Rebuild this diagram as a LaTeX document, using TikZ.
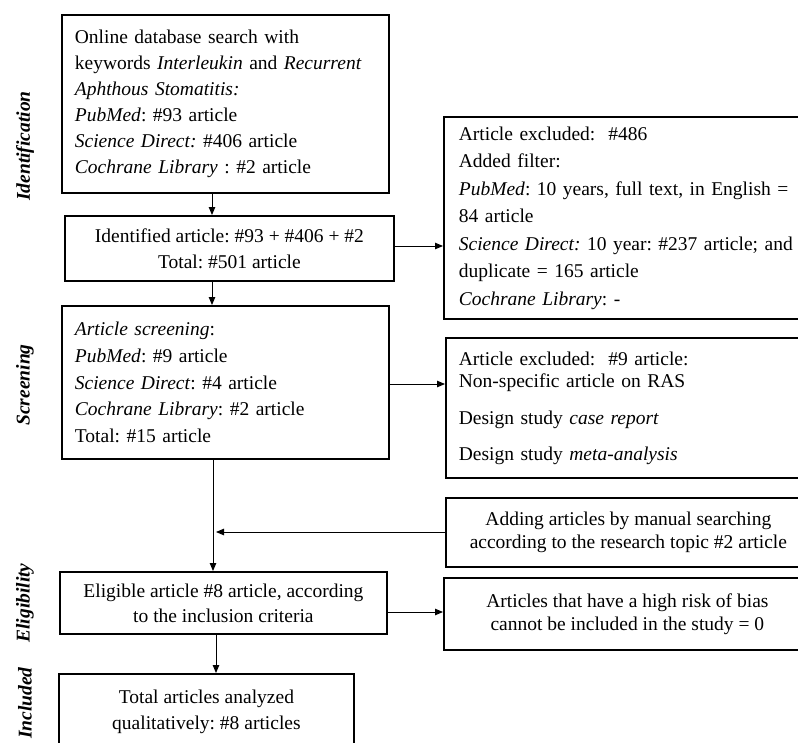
\documentclass[tikz,border=0pt]{standalone}
\usepackage{fontspec}
\setmainfont{Liberation Serif}
\usetikzlibrary{arrows.meta}
\frenchspacing
\begin{document}
\begin{tikzpicture}[x=1pt,y=-1pt,
  box/.style={draw, line width=1.8pt, anchor=north west, inner sep=0pt, font=\fontsize{19.5}{26}\selectfont},
  lbox/.style={box, align=left, inner xsep=13pt},
  cbox/.style={box, align=center},
  arr/.style={line width=0.9pt, -{Triangle[length=8pt,width=6.5pt]}},
  side/.style={rotate=90, font=\fontsize{19.5}{20}\selectfont\bfseries\itshape}]
\useasboundingbox (0,0) rectangle (798,742);
\clip (0,0) rectangle (798,742);
\fill[white] (0,0) rectangle (798,742);
% left column
\node[lbox, minimum width=327pt, minimum height=178pt, text width=301pt] (A) at (61,14)
 {Online database search with\\
  keywords \textit{Interleukin} and \textit{Recurrent}\\
  \textit{Aphthous Stomatitis:}\\
  \textit{PubMed}: \#93 article\\
  \textit{Science Direct:} \#406 article\\
  \textit{Cochrane Library} : \#2 article};
\node[cbox, minimum width=329pt, minimum height=65pt] (B) at (64,215)
 {Identified article: \#93 + \#406 + \#2\\ Total: \#501 article};
\node[lbox, minimum width=327pt, minimum height=153pt, text width=301pt, font=\fontsize{19.5}{26.7}\selectfont] (C) at (61,305)
 {\textit{Article screening}:\\
  \textit{PubMed}: \#9 article\\
  \textit{Science Direct}: \#4 article\\
  \textit{Cochrane Library}: \#2 article\\
  Total: \#15 article};
\node[cbox, minimum width=327pt, minimum height=62pt, font=\fontsize{19.5}{25}\selectfont] (D) at (59,571)
 {Eligible article \#8 article, according\\ to the inclusion criteria};
\node[cbox, minimum width=295pt, minimum height=75pt] (E) at (58,673)
 {Total articles analyzed\\ qualitatively: \#8 articles};
% right column
\node[lbox, minimum width=367pt, minimum height=202pt, text width=341pt, inner xsep=15pt, font=\fontsize{19.5}{27.5}\selectfont] (F) at (443,116)
 {Article excluded:\ \ \#486\\
  Added filter:\\
  \textit{PubMed}: 10 years, full text, in English =\\
  84 article\\
  \textit{Science Direct:} 10 year: \#237 article; and\\
  duplicate = 165 article\\
  \textit{Cochrane Library}: -};
\node[lbox, minimum width=365pt, minimum height=140pt, text width=339pt, font=\fontsize{19.5}{22}\selectfont] (G) at (445,337)
 {Article excluded:\ \ \#9 article:\\
  Non-specific article on RAS\\[15pt]
  Design study \textit{case report}\\[14pt]
  Design study \textit{meta-analysis}};
\node[cbox, minimum width=365pt, minimum height=69pt, font=\fontsize{19.5}{23}\selectfont] (H) at (445,497)
 {Adding articles by manual searching\\ according to the research topic \#2 article};
\node[cbox, minimum width=367pt, minimum height=72pt, font=\fontsize{19.5}{23}\selectfont] (I) at (443,577)
 {Articles that have a high risk of bias\\ cannot be included in the study = 0};
% side labels
\node[side] (L1) at (25,146) {Identification};
\node[side] (L2) at (25,385) {Screening};
\node[side] (L3) at (25,603) {Eligibility};
\node[side] (L4) at (25,703) {Included};
% connectors
\coordinate (x1) at (212,0);
\coordinate (x2) at (216,0);
\coordinate (J) at (213,532);
\coordinate (yBF) at (0,246);
\coordinate (yCG) at (0,384);
\coordinate (yDI) at (0,612);
\draw[arr] (A.south -| x1) -- (B.north -| x1);
\draw[arr] (B.south -| x1) -- (C.north -| x1);
\draw[arr] (B.east |- yBF) -- (F.west |- yBF);
\draw[arr] (C.east |- yCG) -- (G.west |- yCG);
\draw[arr] (C.south -| J) -- (D.north -| J);
\draw[arr, shorten >=3pt] (H.west |- J) -- (J);
\draw[arr] (D.east |- yDI) -- (I.west |- yDI);
\draw[arr] (D.south -| x2) -- (E.north -| x2);
\end{tikzpicture}
\end{document}
